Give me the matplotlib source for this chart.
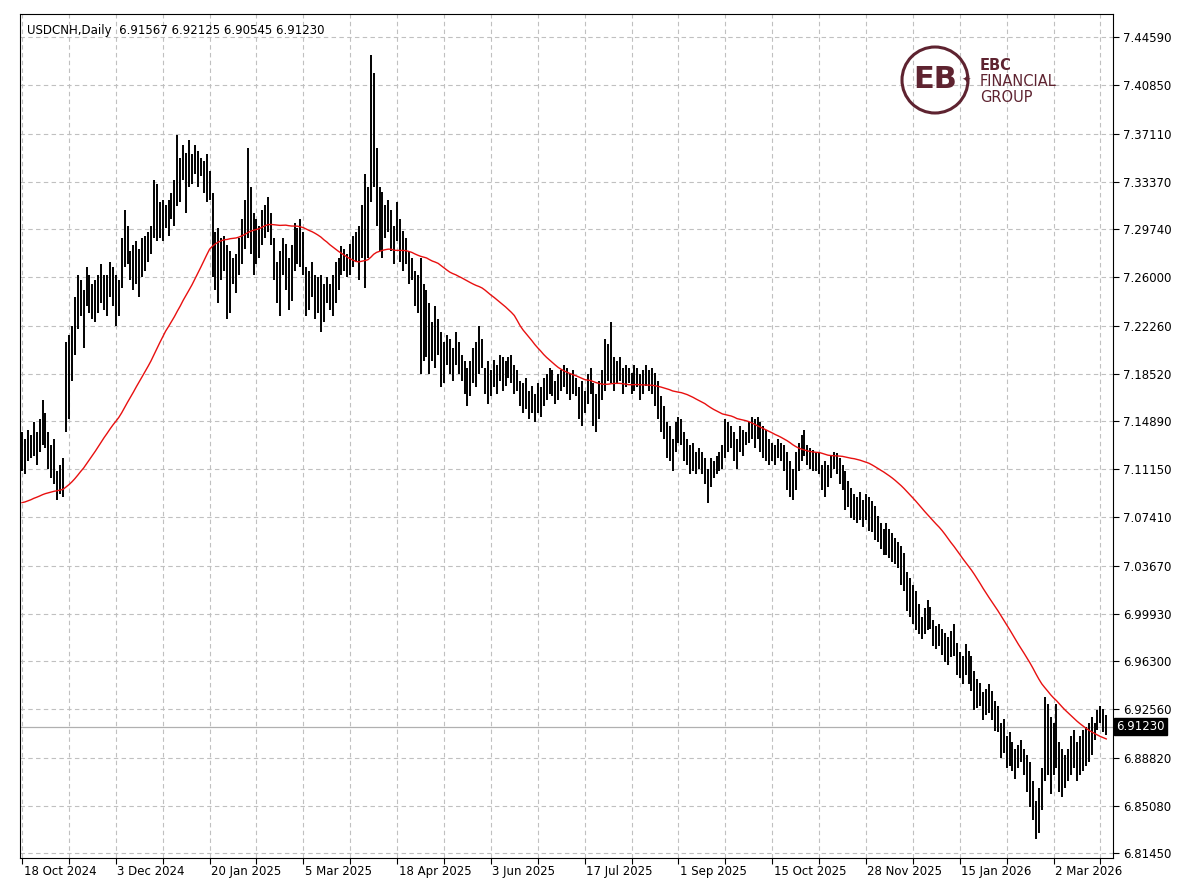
import matplotlib
matplotlib.use("Agg")
import matplotlib.pyplot as plt
import numpy as np
from matplotlib.patches import Circle

bars_txt = """
7.140 7.110|7.135 7.108|7.142 7.118|7.138 7.120|7.148 7.122|7.140 7.115|7.150 7.125|7.165 7.130|7.155 7.128|7.140 7.112|
7.130 7.105|7.135 7.100|7.110 7.088|7.115 7.092|7.120 7.090|7.210 7.140|7.215 7.150|7.222 7.180|7.245 7.200|7.262 7.220|
7.258 7.230|7.250 7.205|7.268 7.238|7.262 7.232|7.255 7.228|7.258 7.225|7.262 7.232|7.270 7.240|7.262 7.235|7.262 7.230|
7.272 7.245|7.268 7.238|7.262 7.222|7.258 7.230|7.290 7.252|7.312 7.268|7.300 7.270|7.280 7.258|7.285 7.250|7.288 7.255|
7.282 7.245|7.290 7.260|7.292 7.265|7.295 7.272|7.300 7.278|7.335 7.290|7.332 7.288|7.318 7.290|7.320 7.288|7.316 7.298|
7.320 7.292|7.325 7.305|7.335 7.300|7.370 7.315|7.352 7.318|7.362 7.335|7.356 7.310|7.366 7.330|7.355 7.332|7.362 7.340|
7.358 7.330|7.352 7.338|7.350 7.325|7.355 7.318|7.342 7.320|7.325 7.260|7.295 7.250|7.298 7.240|7.290 7.258|7.292 7.265|
7.285 7.228|7.280 7.232|7.275 7.255|7.278 7.248|7.290 7.262|7.305 7.270|7.320 7.282|7.360 7.290|7.330 7.278|7.310 7.262|
7.305 7.270|7.300 7.275|7.312 7.285|7.316 7.290|7.322 7.295|7.310 7.285|7.290 7.258|7.272 7.240|7.280 7.230|7.290 7.262|
7.286 7.250|7.275 7.235|7.285 7.242|7.302 7.265|7.298 7.270|7.305 7.268|7.295 7.262|7.268 7.230|7.265 7.235|7.272 7.245|
7.262 7.228|7.260 7.232|7.262 7.218|7.255 7.225|7.260 7.240|7.255 7.235|7.262 7.230|7.272 7.240|7.275 7.250|7.284 7.262|
7.282 7.265|7.278 7.260|7.286 7.262|7.292 7.268|7.295 7.272|7.300 7.258|7.316 7.275|7.340 7.252|7.330 7.275|7.432 7.318|
7.418 7.330|7.360 7.300|7.330 7.280|7.326 7.275|7.316 7.290|7.320 7.295|7.312 7.280|7.300 7.270|7.318 7.288|7.305 7.272|
7.296 7.265|7.290 7.270|7.280 7.255|7.275 7.258|7.265 7.238|7.262 7.232|7.275 7.185|7.255 7.195|7.250 7.198|7.240 7.185|
7.225 7.195|7.238 7.190|7.228 7.200|7.218 7.175|7.210 7.178|7.215 7.192|7.212 7.185|7.205 7.180|7.218 7.192|7.210 7.185|
7.200 7.180|7.195 7.170|7.190 7.160|7.195 7.168|7.205 7.178|7.210 7.175|7.222 7.185|7.212 7.190|7.190 7.170|7.195 7.162|
7.188 7.168|7.196 7.175|7.192 7.170|7.200 7.180|7.198 7.172|7.195 7.176|7.198 7.182|7.200 7.178|7.192 7.170|7.188 7.172|
7.180 7.160|7.178 7.155|7.182 7.158|7.172 7.150|7.176 7.155|7.170 7.148|7.178 7.155|7.175 7.152|7.182 7.160|7.185 7.165|
7.190 7.170|7.188 7.168|7.180 7.162|7.185 7.165|7.188 7.172|7.192 7.175|7.190 7.170|7.185 7.165|7.188 7.170|7.182 7.168|
7.175 7.150|7.180 7.145|7.172 7.155|7.185 7.162|7.190 7.170|7.178 7.145|7.170 7.140|7.180 7.150|7.188 7.165|7.212 7.172|
7.208 7.180|7.225 7.178|7.198 7.172|7.195 7.178|7.198 7.180|7.190 7.170|7.192 7.175|7.190 7.178|7.186 7.170|7.192 7.172|
7.190 7.175|7.185 7.165|7.188 7.170|7.192 7.176|7.188 7.172|7.190 7.170|7.186 7.160|7.180 7.150|7.168 7.140|7.160 7.135|
7.148 7.120|7.145 7.118|7.135 7.110|7.148 7.125|7.152 7.132|7.150 7.130|7.140 7.118|7.135 7.115|7.130 7.108|7.132 7.110|
7.125 7.108|7.128 7.112|7.125 7.108|7.120 7.100|7.112 7.085|7.120 7.098|7.118 7.105|7.122 7.108|7.125 7.110|7.130 7.112|
7.150 7.120|7.148 7.125|7.145 7.128|7.140 7.118|7.135 7.112|7.145 7.125|7.142 7.122|7.140 7.130|7.148 7.132|7.152 7.135|
7.150 7.128|7.152 7.135|7.148 7.125|7.145 7.120|7.142 7.118|7.135 7.115|7.132 7.118|7.130 7.115|7.135 7.120|7.132 7.118|
7.130 7.110|7.125 7.095|7.118 7.090|7.112 7.088|7.125 7.095|7.132 7.110|7.138 7.118|7.142 7.122|7.130 7.115|7.128 7.112|
7.126 7.110|7.124 7.110|7.125 7.108|7.115 7.095|7.118 7.090|7.115 7.098|7.122 7.105|7.125 7.112|7.124 7.108|7.120 7.100|
7.115 7.095|7.110 7.080|7.102 7.082|7.097 7.074|7.092 7.072|7.090 7.070|7.094 7.072|7.088 7.067|7.092 7.072|7.090 7.064|
7.087 7.063|7.083 7.057|7.075 7.055|7.070 7.050|7.065 7.045|7.070 7.045|7.065 7.043|7.062 7.040|7.058 7.038|7.055 7.035|
7.052 7.022|7.047 7.017|7.032 7.002|7.027 6.997|7.022 6.992|7.017 6.987|7.007 6.984|6.997 6.980|7.004 6.984|7.010 6.987|
7.005 6.988|6.995 6.975|6.990 6.972|6.992 6.975|6.988 6.968|6.985 6.962|6.982 6.960|6.986 6.966|6.992 6.967|6.977 6.952|
6.970 6.950|6.967 6.945|6.976 6.952|6.971 6.945|6.967 6.940|6.955 6.925|6.949 6.927|6.946 6.928|6.939 6.917|6.941 6.921|
6.945 6.923|6.940 6.917|6.932 6.909|6.928 6.908|6.915 6.888|6.918 6.892|6.905 6.880|6.908 6.882|6.900 6.878|6.895 6.872|
6.898 6.880|6.902 6.885|6.895 6.875|6.890 6.862|6.885 6.850|6.870 6.840|6.855 6.825|6.865 6.830|6.880 6.848|6.935 6.870|
6.930 6.875|6.920 6.860|6.915 6.875|6.930 6.880|6.900 6.862|6.895 6.858|6.890 6.865|6.895 6.870|6.905 6.875|6.910 6.880|
6.900 6.870|6.905 6.875|6.910 6.878|6.912 6.882|6.915 6.885|6.920 6.890|6.915 6.902|6.925 6.910|6.928 6.915|6.926 6.908|
6.92125 6.90545
"""
pairs = [p.split() for p in bars_txt.replace("\n", "").split("|") if p.strip()]
highs = [float(a) for a, b in pairs]
lows = [float(b) for a, b in pairs]

# estimated earlier median prices (before the visible window) used only to seed the moving average
seed = [7.095, 7.090, 7.085, 7.080, 7.085, 7.090, 7.095, 7.100, 7.095, 7.090,
        7.085, 7.080, 7.075, 7.080, 7.085, 7.090, 7.095, 7.100, 7.105, 7.100,
        7.095, 7.090, 7.085, 7.080, 7.075, 7.070, 7.075, 7.080, 7.085, 7.090,
        7.095, 7.100, 7.095, 7.090, 7.085, 7.080, 7.075, 7.070, 7.065, 7.070,
        7.075, 7.080, 7.085, 7.080, 7.075, 7.070, 7.075, 7.080, 7.085]
ma_period = 50

ytick_vals = [6.81450, 6.85080, 6.88820, 6.92560, 6.96300, 6.99930, 7.03670, 7.07410,
              7.11150, 7.14890, 7.18520, 7.22260, 7.26000, 7.29740, 7.33370, 7.37110,
              7.40850, 7.44590]
date_labels = ["18 Oct 2024", "3 Dec 2024", "20 Jan 2025", "5 Mar 2025", "18 Apr 2025",
               "3 Jun 2025", "17 Jul 2025", "1 Sep 2025", "15 Oct 2025", "28 Nov 2025",
               "15 Jan 2026", "2 Mar 2026"]
label_step = 32
last_price = 6.91230

n = len(highs)
x = np.arange(n)
med_all = np.array(seed + [(h + l) / 2 for h, l in zip(highs, lows)])
ma_full = np.convolve(med_all, np.ones(ma_period) / ma_period, mode="valid")
ma = ma_full[-n:]

fig = plt.figure(figsize=(12, 8.96), dpi=100)
ax = fig.add_axes([20 / 1200, 1 - 858 / 896, (1113 - 20) / 1200, (858 - 14) / 896])
ax.set_facecolor("white")

ax.vlines(x, lows, highs, color="black", linewidth=1.4)
ax.plot(x, ma, color="#e81010", linewidth=1.0)
ax.axhline(last_price, color="#b0b0b0", linewidth=0.9, zorder=0)

ax.set_xlim(-0.7, n + 1.3)
ax.set_ylim(6.8106, 7.4637)

ax.set_yticks(ytick_vals)
ax.set_yticklabels([f"{v:.5f}" for v in ytick_vals])
ax.yaxis.tick_right()
ax.tick_params(axis="y", direction="out", length=4, labelsize=8.5, pad=3)
grid_x = np.arange(0, n, 16)
ax.set_xticks(grid_x)
ax.set_xticklabels([])
ax.tick_params(axis="x", direction="out", length=4)
for i, lab in enumerate(date_labels):
    ax.text(i * label_step + 0.5, -0.008, lab, transform=ax.get_xaxis_transform(),
            ha="left", va="top", fontsize=8.5)

ax.grid(True, color="#c0c0c0", linestyle=(0, (4, 3)), linewidth=0.8)
ax.set_axisbelow(True)
for s in ax.spines.values():
    s.set_color("black")
    s.set_linewidth(0.8)

ax.text(1.003, last_price, f"{last_price:.5f}", transform=ax.get_yaxis_transform(),
        ha="left", va="center", fontsize=8.5, color="white",
        bbox=dict(boxstyle="square,pad=0.2", fc="black", ec="black"))

ax.text(0.006, 0.988, "USDCNH,Daily  6.91567 6.92125 6.90545 6.91230",
        transform=ax.transAxes, ha="left", va="top", fontsize=8.5)

# logo
maroon = "#5e2330"
fig.patches.append(Circle((935, 896 - 80), 33, transform=None, fill=False,
                          edgecolor=maroon, linewidth=2.2, figure=fig))
fig.text(935 / 1200, 1 - 80 / 896, "EB", ha="center", va="center", fontsize=22,
         color=maroon, fontweight="bold")
fig.text(980 / 1200, 1 - 66 / 896, "EBC", ha="left", va="center", fontsize=10.5,
         color=maroon, fontweight="bold")
fig.text(980 / 1200, 1 - 82 / 896, "FINANCIAL", ha="left", va="center", fontsize=10.5, color=maroon)
fig.text(980 / 1200, 1 - 98 / 896, "GROUP", ha="left", va="center", fontsize=10.5, color=maroon)
fig.text(966 / 1200, 1 - 80 / 896, "✦", ha="center", va="center", fontsize=8, color=maroon)

fig.savefig("out.png", dpi=100, facecolor="white")
